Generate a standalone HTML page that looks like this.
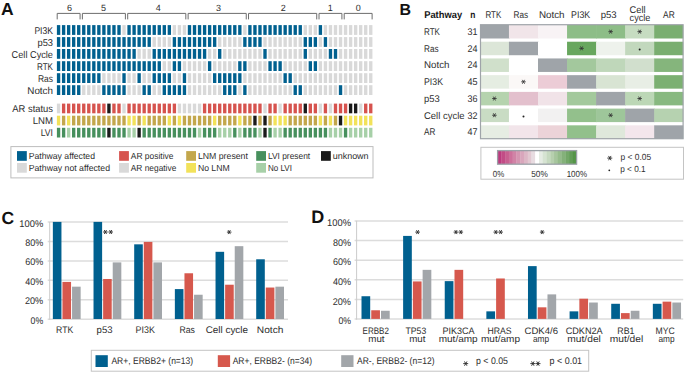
<!DOCTYPE html>
<html><head><meta charset="utf-8"><title>Figure</title>
<style>
html,body{margin:0;padding:0;background:#fff;}
body{width:685px;height:373px;overflow:hidden;}
svg{display:block;font-family:"Liberation Sans", sans-serif;}
</style></head>
<body>
<svg width="685" height="373" viewBox="0 0 685 373" font-family='"Liberation Sans", sans-serif' fill="#2e2e2e" text-rendering="geometricPrecision">
<rect width="685" height="373" fill="#fff"/>
<rect x="56.90" y="25.10" width="3.35" height="9.80" fill="#00608f"/>
<rect x="61.94" y="25.10" width="3.35" height="9.80" fill="#00608f"/>
<rect x="66.97" y="25.10" width="3.35" height="9.80" fill="#00608f"/>
<rect x="72.00" y="25.10" width="3.35" height="9.80" fill="#00608f"/>
<rect x="77.04" y="25.10" width="3.35" height="9.80" fill="#00608f"/>
<rect x="82.08" y="25.10" width="3.35" height="9.80" fill="#00608f"/>
<rect x="87.11" y="25.10" width="3.35" height="9.80" fill="#00608f"/>
<rect x="92.15" y="25.10" width="3.35" height="9.80" fill="#00608f"/>
<rect x="97.18" y="25.10" width="3.35" height="9.80" fill="#00608f"/>
<rect x="102.22" y="25.10" width="3.35" height="9.80" fill="#00608f"/>
<rect x="107.25" y="25.10" width="3.35" height="9.80" fill="#00608f"/>
<rect x="112.28" y="25.10" width="3.35" height="9.80" fill="#00608f"/>
<rect x="117.32" y="25.10" width="3.35" height="9.80" fill="#00608f"/>
<rect x="122.35" y="25.10" width="3.35" height="9.80" fill="#d9d9d9"/>
<rect x="127.39" y="25.10" width="3.35" height="9.80" fill="#00608f"/>
<rect x="132.43" y="25.10" width="3.35" height="9.80" fill="#00608f"/>
<rect x="137.46" y="25.10" width="3.35" height="9.80" fill="#00608f"/>
<rect x="142.50" y="25.10" width="3.35" height="9.80" fill="#00608f"/>
<rect x="147.53" y="25.10" width="3.35" height="9.80" fill="#00608f"/>
<rect x="152.56" y="25.10" width="3.35" height="9.80" fill="#00608f"/>
<rect x="157.60" y="25.10" width="3.35" height="9.80" fill="#00608f"/>
<rect x="162.63" y="25.10" width="3.35" height="9.80" fill="#00608f"/>
<rect x="167.67" y="25.10" width="3.35" height="9.80" fill="#00608f"/>
<rect x="172.71" y="25.10" width="3.35" height="9.80" fill="#d9d9d9"/>
<rect x="177.74" y="25.10" width="3.35" height="9.80" fill="#d9d9d9"/>
<rect x="182.78" y="25.10" width="3.35" height="9.80" fill="#d9d9d9"/>
<rect x="187.81" y="25.10" width="3.35" height="9.80" fill="#00608f"/>
<rect x="192.84" y="25.10" width="3.35" height="9.80" fill="#00608f"/>
<rect x="197.88" y="25.10" width="3.35" height="9.80" fill="#00608f"/>
<rect x="202.92" y="25.10" width="3.35" height="9.80" fill="#00608f"/>
<rect x="207.95" y="25.10" width="3.35" height="9.80" fill="#00608f"/>
<rect x="212.99" y="25.10" width="3.35" height="9.80" fill="#00608f"/>
<rect x="218.02" y="25.10" width="3.35" height="9.80" fill="#00608f"/>
<rect x="223.06" y="25.10" width="3.35" height="9.80" fill="#00608f"/>
<rect x="228.09" y="25.10" width="3.35" height="9.80" fill="#00608f"/>
<rect x="233.12" y="25.10" width="3.35" height="9.80" fill="#00608f"/>
<rect x="238.16" y="25.10" width="3.35" height="9.80" fill="#00608f"/>
<rect x="243.20" y="25.10" width="3.35" height="9.80" fill="#d9d9d9"/>
<rect x="248.23" y="25.10" width="3.35" height="9.80" fill="#00608f"/>
<rect x="253.27" y="25.10" width="3.35" height="9.80" fill="#00608f"/>
<rect x="258.30" y="25.10" width="3.35" height="9.80" fill="#00608f"/>
<rect x="263.33" y="25.10" width="3.35" height="9.80" fill="#00608f"/>
<rect x="268.37" y="25.10" width="3.35" height="9.80" fill="#00608f"/>
<rect x="273.40" y="25.10" width="3.35" height="9.80" fill="#00608f"/>
<rect x="278.44" y="25.10" width="3.35" height="9.80" fill="#00608f"/>
<rect x="283.48" y="25.10" width="3.35" height="9.80" fill="#00608f"/>
<rect x="288.51" y="25.10" width="3.35" height="9.80" fill="#00608f"/>
<rect x="293.55" y="25.10" width="3.35" height="9.80" fill="#00608f"/>
<rect x="298.58" y="25.10" width="3.35" height="9.80" fill="#00608f"/>
<rect x="303.62" y="25.10" width="3.35" height="9.80" fill="#d9d9d9"/>
<rect x="308.65" y="25.10" width="3.35" height="9.80" fill="#d9d9d9"/>
<rect x="313.69" y="25.10" width="3.35" height="9.80" fill="#d9d9d9"/>
<rect x="318.72" y="25.10" width="3.35" height="9.80" fill="#00608f"/>
<rect x="323.75" y="25.10" width="3.35" height="9.80" fill="#d9d9d9"/>
<rect x="328.79" y="25.10" width="3.35" height="9.80" fill="#d9d9d9"/>
<rect x="333.82" y="25.10" width="3.35" height="9.80" fill="#d9d9d9"/>
<rect x="338.86" y="25.10" width="3.35" height="9.80" fill="#d9d9d9"/>
<rect x="343.89" y="25.10" width="3.35" height="9.80" fill="#d9d9d9"/>
<rect x="348.93" y="25.10" width="3.35" height="9.80" fill="#d9d9d9"/>
<rect x="353.96" y="25.10" width="3.35" height="9.80" fill="#d9d9d9"/>
<rect x="359.00" y="25.10" width="3.35" height="9.80" fill="#d9d9d9"/>
<rect x="364.03" y="25.10" width="3.35" height="9.80" fill="#d9d9d9"/>
<rect x="369.07" y="25.10" width="3.35" height="9.80" fill="#d9d9d9"/>
<rect x="56.90" y="37.10" width="3.35" height="9.80" fill="#00608f"/>
<rect x="61.94" y="37.10" width="3.35" height="9.80" fill="#00608f"/>
<rect x="66.97" y="37.10" width="3.35" height="9.80" fill="#00608f"/>
<rect x="72.00" y="37.10" width="3.35" height="9.80" fill="#00608f"/>
<rect x="77.04" y="37.10" width="3.35" height="9.80" fill="#00608f"/>
<rect x="82.08" y="37.10" width="3.35" height="9.80" fill="#00608f"/>
<rect x="87.11" y="37.10" width="3.35" height="9.80" fill="#00608f"/>
<rect x="92.15" y="37.10" width="3.35" height="9.80" fill="#00608f"/>
<rect x="97.18" y="37.10" width="3.35" height="9.80" fill="#00608f"/>
<rect x="102.22" y="37.10" width="3.35" height="9.80" fill="#00608f"/>
<rect x="107.25" y="37.10" width="3.35" height="9.80" fill="#00608f"/>
<rect x="112.28" y="37.10" width="3.35" height="9.80" fill="#00608f"/>
<rect x="117.32" y="37.10" width="3.35" height="9.80" fill="#00608f"/>
<rect x="122.35" y="37.10" width="3.35" height="9.80" fill="#00608f"/>
<rect x="127.39" y="37.10" width="3.35" height="9.80" fill="#00608f"/>
<rect x="132.43" y="37.10" width="3.35" height="9.80" fill="#00608f"/>
<rect x="137.46" y="37.10" width="3.35" height="9.80" fill="#00608f"/>
<rect x="142.50" y="37.10" width="3.35" height="9.80" fill="#00608f"/>
<rect x="147.53" y="37.10" width="3.35" height="9.80" fill="#00608f"/>
<rect x="152.56" y="37.10" width="3.35" height="9.80" fill="#d9d9d9"/>
<rect x="157.60" y="37.10" width="3.35" height="9.80" fill="#d9d9d9"/>
<rect x="162.63" y="37.10" width="3.35" height="9.80" fill="#d9d9d9"/>
<rect x="167.67" y="37.10" width="3.35" height="9.80" fill="#d9d9d9"/>
<rect x="172.71" y="37.10" width="3.35" height="9.80" fill="#00608f"/>
<rect x="177.74" y="37.10" width="3.35" height="9.80" fill="#00608f"/>
<rect x="182.78" y="37.10" width="3.35" height="9.80" fill="#00608f"/>
<rect x="187.81" y="37.10" width="3.35" height="9.80" fill="#00608f"/>
<rect x="192.84" y="37.10" width="3.35" height="9.80" fill="#00608f"/>
<rect x="197.88" y="37.10" width="3.35" height="9.80" fill="#00608f"/>
<rect x="202.92" y="37.10" width="3.35" height="9.80" fill="#00608f"/>
<rect x="207.95" y="37.10" width="3.35" height="9.80" fill="#00608f"/>
<rect x="212.99" y="37.10" width="3.35" height="9.80" fill="#00608f"/>
<rect x="218.02" y="37.10" width="3.35" height="9.80" fill="#d9d9d9"/>
<rect x="223.06" y="37.10" width="3.35" height="9.80" fill="#d9d9d9"/>
<rect x="228.09" y="37.10" width="3.35" height="9.80" fill="#d9d9d9"/>
<rect x="233.12" y="37.10" width="3.35" height="9.80" fill="#d9d9d9"/>
<rect x="238.16" y="37.10" width="3.35" height="9.80" fill="#d9d9d9"/>
<rect x="243.20" y="37.10" width="3.35" height="9.80" fill="#00608f"/>
<rect x="248.23" y="37.10" width="3.35" height="9.80" fill="#00608f"/>
<rect x="253.27" y="37.10" width="3.35" height="9.80" fill="#00608f"/>
<rect x="258.30" y="37.10" width="3.35" height="9.80" fill="#00608f"/>
<rect x="263.33" y="37.10" width="3.35" height="9.80" fill="#d9d9d9"/>
<rect x="268.37" y="37.10" width="3.35" height="9.80" fill="#d9d9d9"/>
<rect x="273.40" y="37.10" width="3.35" height="9.80" fill="#d9d9d9"/>
<rect x="278.44" y="37.10" width="3.35" height="9.80" fill="#d9d9d9"/>
<rect x="283.48" y="37.10" width="3.35" height="9.80" fill="#d9d9d9"/>
<rect x="288.51" y="37.10" width="3.35" height="9.80" fill="#d9d9d9"/>
<rect x="293.55" y="37.10" width="3.35" height="9.80" fill="#d9d9d9"/>
<rect x="298.58" y="37.10" width="3.35" height="9.80" fill="#d9d9d9"/>
<rect x="303.62" y="37.10" width="3.35" height="9.80" fill="#00608f"/>
<rect x="308.65" y="37.10" width="3.35" height="9.80" fill="#00608f"/>
<rect x="313.69" y="37.10" width="3.35" height="9.80" fill="#00608f"/>
<rect x="318.72" y="37.10" width="3.35" height="9.80" fill="#d9d9d9"/>
<rect x="323.75" y="37.10" width="3.35" height="9.80" fill="#00608f"/>
<rect x="328.79" y="37.10" width="3.35" height="9.80" fill="#d9d9d9"/>
<rect x="333.82" y="37.10" width="3.35" height="9.80" fill="#d9d9d9"/>
<rect x="338.86" y="37.10" width="3.35" height="9.80" fill="#d9d9d9"/>
<rect x="343.89" y="37.10" width="3.35" height="9.80" fill="#d9d9d9"/>
<rect x="348.93" y="37.10" width="3.35" height="9.80" fill="#d9d9d9"/>
<rect x="353.96" y="37.10" width="3.35" height="9.80" fill="#d9d9d9"/>
<rect x="359.00" y="37.10" width="3.35" height="9.80" fill="#d9d9d9"/>
<rect x="364.03" y="37.10" width="3.35" height="9.80" fill="#d9d9d9"/>
<rect x="369.07" y="37.10" width="3.35" height="9.80" fill="#d9d9d9"/>
<rect x="56.90" y="49.00" width="3.35" height="9.80" fill="#00608f"/>
<rect x="61.94" y="49.00" width="3.35" height="9.80" fill="#00608f"/>
<rect x="66.97" y="49.00" width="3.35" height="9.80" fill="#00608f"/>
<rect x="72.00" y="49.00" width="3.35" height="9.80" fill="#00608f"/>
<rect x="77.04" y="49.00" width="3.35" height="9.80" fill="#00608f"/>
<rect x="82.08" y="49.00" width="3.35" height="9.80" fill="#00608f"/>
<rect x="87.11" y="49.00" width="3.35" height="9.80" fill="#00608f"/>
<rect x="92.15" y="49.00" width="3.35" height="9.80" fill="#00608f"/>
<rect x="97.18" y="49.00" width="3.35" height="9.80" fill="#00608f"/>
<rect x="102.22" y="49.00" width="3.35" height="9.80" fill="#00608f"/>
<rect x="107.25" y="49.00" width="3.35" height="9.80" fill="#00608f"/>
<rect x="112.28" y="49.00" width="3.35" height="9.80" fill="#00608f"/>
<rect x="117.32" y="49.00" width="3.35" height="9.80" fill="#00608f"/>
<rect x="122.35" y="49.00" width="3.35" height="9.80" fill="#00608f"/>
<rect x="127.39" y="49.00" width="3.35" height="9.80" fill="#00608f"/>
<rect x="132.43" y="49.00" width="3.35" height="9.80" fill="#00608f"/>
<rect x="137.46" y="49.00" width="3.35" height="9.80" fill="#d9d9d9"/>
<rect x="142.50" y="49.00" width="3.35" height="9.80" fill="#d9d9d9"/>
<rect x="147.53" y="49.00" width="3.35" height="9.80" fill="#d9d9d9"/>
<rect x="152.56" y="49.00" width="3.35" height="9.80" fill="#00608f"/>
<rect x="157.60" y="49.00" width="3.35" height="9.80" fill="#00608f"/>
<rect x="162.63" y="49.00" width="3.35" height="9.80" fill="#00608f"/>
<rect x="167.67" y="49.00" width="3.35" height="9.80" fill="#00608f"/>
<rect x="172.71" y="49.00" width="3.35" height="9.80" fill="#00608f"/>
<rect x="177.74" y="49.00" width="3.35" height="9.80" fill="#00608f"/>
<rect x="182.78" y="49.00" width="3.35" height="9.80" fill="#00608f"/>
<rect x="187.81" y="49.00" width="3.35" height="9.80" fill="#00608f"/>
<rect x="192.84" y="49.00" width="3.35" height="9.80" fill="#00608f"/>
<rect x="197.88" y="49.00" width="3.35" height="9.80" fill="#00608f"/>
<rect x="202.92" y="49.00" width="3.35" height="9.80" fill="#00608f"/>
<rect x="207.95" y="49.00" width="3.35" height="9.80" fill="#d9d9d9"/>
<rect x="212.99" y="49.00" width="3.35" height="9.80" fill="#d9d9d9"/>
<rect x="218.02" y="49.00" width="3.35" height="9.80" fill="#00608f"/>
<rect x="223.06" y="49.00" width="3.35" height="9.80" fill="#d9d9d9"/>
<rect x="228.09" y="49.00" width="3.35" height="9.80" fill="#d9d9d9"/>
<rect x="233.12" y="49.00" width="3.35" height="9.80" fill="#d9d9d9"/>
<rect x="238.16" y="49.00" width="3.35" height="9.80" fill="#d9d9d9"/>
<rect x="243.20" y="49.00" width="3.35" height="9.80" fill="#d9d9d9"/>
<rect x="248.23" y="49.00" width="3.35" height="9.80" fill="#d9d9d9"/>
<rect x="253.27" y="49.00" width="3.35" height="9.80" fill="#d9d9d9"/>
<rect x="258.30" y="49.00" width="3.35" height="9.80" fill="#d9d9d9"/>
<rect x="263.33" y="49.00" width="3.35" height="9.80" fill="#00608f"/>
<rect x="268.37" y="49.00" width="3.35" height="9.80" fill="#d9d9d9"/>
<rect x="273.40" y="49.00" width="3.35" height="9.80" fill="#d9d9d9"/>
<rect x="278.44" y="49.00" width="3.35" height="9.80" fill="#d9d9d9"/>
<rect x="283.48" y="49.00" width="3.35" height="9.80" fill="#d9d9d9"/>
<rect x="288.51" y="49.00" width="3.35" height="9.80" fill="#d9d9d9"/>
<rect x="293.55" y="49.00" width="3.35" height="9.80" fill="#d9d9d9"/>
<rect x="298.58" y="49.00" width="3.35" height="9.80" fill="#d9d9d9"/>
<rect x="303.62" y="49.00" width="3.35" height="9.80" fill="#00608f"/>
<rect x="308.65" y="49.00" width="3.35" height="9.80" fill="#d9d9d9"/>
<rect x="313.69" y="49.00" width="3.35" height="9.80" fill="#d9d9d9"/>
<rect x="318.72" y="49.00" width="3.35" height="9.80" fill="#d9d9d9"/>
<rect x="323.75" y="49.00" width="3.35" height="9.80" fill="#d9d9d9"/>
<rect x="328.79" y="49.00" width="3.35" height="9.80" fill="#00608f"/>
<rect x="333.82" y="49.00" width="3.35" height="9.80" fill="#00608f"/>
<rect x="338.86" y="49.00" width="3.35" height="9.80" fill="#d9d9d9"/>
<rect x="343.89" y="49.00" width="3.35" height="9.80" fill="#d9d9d9"/>
<rect x="348.93" y="49.00" width="3.35" height="9.80" fill="#d9d9d9"/>
<rect x="353.96" y="49.00" width="3.35" height="9.80" fill="#d9d9d9"/>
<rect x="359.00" y="49.00" width="3.35" height="9.80" fill="#d9d9d9"/>
<rect x="364.03" y="49.00" width="3.35" height="9.80" fill="#d9d9d9"/>
<rect x="369.07" y="49.00" width="3.35" height="9.80" fill="#d9d9d9"/>
<rect x="56.90" y="61.20" width="3.35" height="9.80" fill="#00608f"/>
<rect x="61.94" y="61.20" width="3.35" height="9.80" fill="#00608f"/>
<rect x="66.97" y="61.20" width="3.35" height="9.80" fill="#00608f"/>
<rect x="72.00" y="61.20" width="3.35" height="9.80" fill="#00608f"/>
<rect x="77.04" y="61.20" width="3.35" height="9.80" fill="#00608f"/>
<rect x="82.08" y="61.20" width="3.35" height="9.80" fill="#00608f"/>
<rect x="87.11" y="61.20" width="3.35" height="9.80" fill="#00608f"/>
<rect x="92.15" y="61.20" width="3.35" height="9.80" fill="#00608f"/>
<rect x="97.18" y="61.20" width="3.35" height="9.80" fill="#00608f"/>
<rect x="102.22" y="61.20" width="3.35" height="9.80" fill="#00608f"/>
<rect x="107.25" y="61.20" width="3.35" height="9.80" fill="#00608f"/>
<rect x="112.28" y="61.20" width="3.35" height="9.80" fill="#00608f"/>
<rect x="117.32" y="61.20" width="3.35" height="9.80" fill="#00608f"/>
<rect x="122.35" y="61.20" width="3.35" height="9.80" fill="#00608f"/>
<rect x="127.39" y="61.20" width="3.35" height="9.80" fill="#00608f"/>
<rect x="132.43" y="61.20" width="3.35" height="9.80" fill="#00608f"/>
<rect x="137.46" y="61.20" width="3.35" height="9.80" fill="#00608f"/>
<rect x="142.50" y="61.20" width="3.35" height="9.80" fill="#00608f"/>
<rect x="147.53" y="61.20" width="3.35" height="9.80" fill="#00608f"/>
<rect x="152.56" y="61.20" width="3.35" height="9.80" fill="#00608f"/>
<rect x="157.60" y="61.20" width="3.35" height="9.80" fill="#00608f"/>
<rect x="162.63" y="61.20" width="3.35" height="9.80" fill="#d9d9d9"/>
<rect x="167.67" y="61.20" width="3.35" height="9.80" fill="#d9d9d9"/>
<rect x="172.71" y="61.20" width="3.35" height="9.80" fill="#00608f"/>
<rect x="177.74" y="61.20" width="3.35" height="9.80" fill="#00608f"/>
<rect x="182.78" y="61.20" width="3.35" height="9.80" fill="#d9d9d9"/>
<rect x="187.81" y="61.20" width="3.35" height="9.80" fill="#d9d9d9"/>
<rect x="192.84" y="61.20" width="3.35" height="9.80" fill="#d9d9d9"/>
<rect x="197.88" y="61.20" width="3.35" height="9.80" fill="#d9d9d9"/>
<rect x="202.92" y="61.20" width="3.35" height="9.80" fill="#d9d9d9"/>
<rect x="207.95" y="61.20" width="3.35" height="9.80" fill="#00608f"/>
<rect x="212.99" y="61.20" width="3.35" height="9.80" fill="#d9d9d9"/>
<rect x="218.02" y="61.20" width="3.35" height="9.80" fill="#d9d9d9"/>
<rect x="223.06" y="61.20" width="3.35" height="9.80" fill="#d9d9d9"/>
<rect x="228.09" y="61.20" width="3.35" height="9.80" fill="#d9d9d9"/>
<rect x="233.12" y="61.20" width="3.35" height="9.80" fill="#d9d9d9"/>
<rect x="238.16" y="61.20" width="3.35" height="9.80" fill="#00608f"/>
<rect x="243.20" y="61.20" width="3.35" height="9.80" fill="#00608f"/>
<rect x="248.23" y="61.20" width="3.35" height="9.80" fill="#d9d9d9"/>
<rect x="253.27" y="61.20" width="3.35" height="9.80" fill="#d9d9d9"/>
<rect x="258.30" y="61.20" width="3.35" height="9.80" fill="#d9d9d9"/>
<rect x="263.33" y="61.20" width="3.35" height="9.80" fill="#d9d9d9"/>
<rect x="268.37" y="61.20" width="3.35" height="9.80" fill="#00608f"/>
<rect x="273.40" y="61.20" width="3.35" height="9.80" fill="#00608f"/>
<rect x="278.44" y="61.20" width="3.35" height="9.80" fill="#00608f"/>
<rect x="283.48" y="61.20" width="3.35" height="9.80" fill="#d9d9d9"/>
<rect x="288.51" y="61.20" width="3.35" height="9.80" fill="#d9d9d9"/>
<rect x="293.55" y="61.20" width="3.35" height="9.80" fill="#d9d9d9"/>
<rect x="298.58" y="61.20" width="3.35" height="9.80" fill="#d9d9d9"/>
<rect x="303.62" y="61.20" width="3.35" height="9.80" fill="#d9d9d9"/>
<rect x="308.65" y="61.20" width="3.35" height="9.80" fill="#00608f"/>
<rect x="313.69" y="61.20" width="3.35" height="9.80" fill="#00608f"/>
<rect x="318.72" y="61.20" width="3.35" height="9.80" fill="#d9d9d9"/>
<rect x="323.75" y="61.20" width="3.35" height="9.80" fill="#d9d9d9"/>
<rect x="328.79" y="61.20" width="3.35" height="9.80" fill="#d9d9d9"/>
<rect x="333.82" y="61.20" width="3.35" height="9.80" fill="#d9d9d9"/>
<rect x="338.86" y="61.20" width="3.35" height="9.80" fill="#d9d9d9"/>
<rect x="343.89" y="61.20" width="3.35" height="9.80" fill="#d9d9d9"/>
<rect x="348.93" y="61.20" width="3.35" height="9.80" fill="#d9d9d9"/>
<rect x="353.96" y="61.20" width="3.35" height="9.80" fill="#d9d9d9"/>
<rect x="359.00" y="61.20" width="3.35" height="9.80" fill="#d9d9d9"/>
<rect x="364.03" y="61.20" width="3.35" height="9.80" fill="#d9d9d9"/>
<rect x="369.07" y="61.20" width="3.35" height="9.80" fill="#d9d9d9"/>
<rect x="56.90" y="73.20" width="3.35" height="9.80" fill="#00608f"/>
<rect x="61.94" y="73.20" width="3.35" height="9.80" fill="#00608f"/>
<rect x="66.97" y="73.20" width="3.35" height="9.80" fill="#00608f"/>
<rect x="72.00" y="73.20" width="3.35" height="9.80" fill="#00608f"/>
<rect x="77.04" y="73.20" width="3.35" height="9.80" fill="#00608f"/>
<rect x="82.08" y="73.20" width="3.35" height="9.80" fill="#00608f"/>
<rect x="87.11" y="73.20" width="3.35" height="9.80" fill="#00608f"/>
<rect x="92.15" y="73.20" width="3.35" height="9.80" fill="#00608f"/>
<rect x="97.18" y="73.20" width="3.35" height="9.80" fill="#00608f"/>
<rect x="102.22" y="73.20" width="3.35" height="9.80" fill="#d9d9d9"/>
<rect x="107.25" y="73.20" width="3.35" height="9.80" fill="#d9d9d9"/>
<rect x="112.28" y="73.20" width="3.35" height="9.80" fill="#d9d9d9"/>
<rect x="117.32" y="73.20" width="3.35" height="9.80" fill="#d9d9d9"/>
<rect x="122.35" y="73.20" width="3.35" height="9.80" fill="#00608f"/>
<rect x="127.39" y="73.20" width="3.35" height="9.80" fill="#d9d9d9"/>
<rect x="132.43" y="73.20" width="3.35" height="9.80" fill="#d9d9d9"/>
<rect x="137.46" y="73.20" width="3.35" height="9.80" fill="#00608f"/>
<rect x="142.50" y="73.20" width="3.35" height="9.80" fill="#d9d9d9"/>
<rect x="147.53" y="73.20" width="3.35" height="9.80" fill="#d9d9d9"/>
<rect x="152.56" y="73.20" width="3.35" height="9.80" fill="#00608f"/>
<rect x="157.60" y="73.20" width="3.35" height="9.80" fill="#00608f"/>
<rect x="162.63" y="73.20" width="3.35" height="9.80" fill="#00608f"/>
<rect x="167.67" y="73.20" width="3.35" height="9.80" fill="#00608f"/>
<rect x="172.71" y="73.20" width="3.35" height="9.80" fill="#d9d9d9"/>
<rect x="177.74" y="73.20" width="3.35" height="9.80" fill="#d9d9d9"/>
<rect x="182.78" y="73.20" width="3.35" height="9.80" fill="#00608f"/>
<rect x="187.81" y="73.20" width="3.35" height="9.80" fill="#d9d9d9"/>
<rect x="192.84" y="73.20" width="3.35" height="9.80" fill="#d9d9d9"/>
<rect x="197.88" y="73.20" width="3.35" height="9.80" fill="#d9d9d9"/>
<rect x="202.92" y="73.20" width="3.35" height="9.80" fill="#d9d9d9"/>
<rect x="207.95" y="73.20" width="3.35" height="9.80" fill="#d9d9d9"/>
<rect x="212.99" y="73.20" width="3.35" height="9.80" fill="#00608f"/>
<rect x="218.02" y="73.20" width="3.35" height="9.80" fill="#00608f"/>
<rect x="223.06" y="73.20" width="3.35" height="9.80" fill="#00608f"/>
<rect x="228.09" y="73.20" width="3.35" height="9.80" fill="#00608f"/>
<rect x="233.12" y="73.20" width="3.35" height="9.80" fill="#00608f"/>
<rect x="238.16" y="73.20" width="3.35" height="9.80" fill="#00608f"/>
<rect x="243.20" y="73.20" width="3.35" height="9.80" fill="#d9d9d9"/>
<rect x="248.23" y="73.20" width="3.35" height="9.80" fill="#d9d9d9"/>
<rect x="253.27" y="73.20" width="3.35" height="9.80" fill="#d9d9d9"/>
<rect x="258.30" y="73.20" width="3.35" height="9.80" fill="#d9d9d9"/>
<rect x="263.33" y="73.20" width="3.35" height="9.80" fill="#d9d9d9"/>
<rect x="268.37" y="73.20" width="3.35" height="9.80" fill="#d9d9d9"/>
<rect x="273.40" y="73.20" width="3.35" height="9.80" fill="#d9d9d9"/>
<rect x="278.44" y="73.20" width="3.35" height="9.80" fill="#d9d9d9"/>
<rect x="283.48" y="73.20" width="3.35" height="9.80" fill="#00608f"/>
<rect x="288.51" y="73.20" width="3.35" height="9.80" fill="#00608f"/>
<rect x="293.55" y="73.20" width="3.35" height="9.80" fill="#d9d9d9"/>
<rect x="298.58" y="73.20" width="3.35" height="9.80" fill="#d9d9d9"/>
<rect x="303.62" y="73.20" width="3.35" height="9.80" fill="#d9d9d9"/>
<rect x="308.65" y="73.20" width="3.35" height="9.80" fill="#d9d9d9"/>
<rect x="313.69" y="73.20" width="3.35" height="9.80" fill="#d9d9d9"/>
<rect x="318.72" y="73.20" width="3.35" height="9.80" fill="#d9d9d9"/>
<rect x="323.75" y="73.20" width="3.35" height="9.80" fill="#d9d9d9"/>
<rect x="328.79" y="73.20" width="3.35" height="9.80" fill="#d9d9d9"/>
<rect x="333.82" y="73.20" width="3.35" height="9.80" fill="#d9d9d9"/>
<rect x="338.86" y="73.20" width="3.35" height="9.80" fill="#d9d9d9"/>
<rect x="343.89" y="73.20" width="3.35" height="9.80" fill="#d9d9d9"/>
<rect x="348.93" y="73.20" width="3.35" height="9.80" fill="#d9d9d9"/>
<rect x="353.96" y="73.20" width="3.35" height="9.80" fill="#d9d9d9"/>
<rect x="359.00" y="73.20" width="3.35" height="9.80" fill="#d9d9d9"/>
<rect x="364.03" y="73.20" width="3.35" height="9.80" fill="#d9d9d9"/>
<rect x="369.07" y="73.20" width="3.35" height="9.80" fill="#d9d9d9"/>
<rect x="56.90" y="85.20" width="3.35" height="9.80" fill="#00608f"/>
<rect x="61.94" y="85.20" width="3.35" height="9.80" fill="#00608f"/>
<rect x="66.97" y="85.20" width="3.35" height="9.80" fill="#00608f"/>
<rect x="72.00" y="85.20" width="3.35" height="9.80" fill="#00608f"/>
<rect x="77.04" y="85.20" width="3.35" height="9.80" fill="#00608f"/>
<rect x="82.08" y="85.20" width="3.35" height="9.80" fill="#d9d9d9"/>
<rect x="87.11" y="85.20" width="3.35" height="9.80" fill="#d9d9d9"/>
<rect x="92.15" y="85.20" width="3.35" height="9.80" fill="#d9d9d9"/>
<rect x="97.18" y="85.20" width="3.35" height="9.80" fill="#d9d9d9"/>
<rect x="102.22" y="85.20" width="3.35" height="9.80" fill="#00608f"/>
<rect x="107.25" y="85.20" width="3.35" height="9.80" fill="#00608f"/>
<rect x="112.28" y="85.20" width="3.35" height="9.80" fill="#00608f"/>
<rect x="117.32" y="85.20" width="3.35" height="9.80" fill="#00608f"/>
<rect x="122.35" y="85.20" width="3.35" height="9.80" fill="#00608f"/>
<rect x="127.39" y="85.20" width="3.35" height="9.80" fill="#d9d9d9"/>
<rect x="132.43" y="85.20" width="3.35" height="9.80" fill="#d9d9d9"/>
<rect x="137.46" y="85.20" width="3.35" height="9.80" fill="#d9d9d9"/>
<rect x="142.50" y="85.20" width="3.35" height="9.80" fill="#00608f"/>
<rect x="147.53" y="85.20" width="3.35" height="9.80" fill="#00608f"/>
<rect x="152.56" y="85.20" width="3.35" height="9.80" fill="#d9d9d9"/>
<rect x="157.60" y="85.20" width="3.35" height="9.80" fill="#d9d9d9"/>
<rect x="162.63" y="85.20" width="3.35" height="9.80" fill="#00608f"/>
<rect x="167.67" y="85.20" width="3.35" height="9.80" fill="#00608f"/>
<rect x="172.71" y="85.20" width="3.35" height="9.80" fill="#00608f"/>
<rect x="177.74" y="85.20" width="3.35" height="9.80" fill="#00608f"/>
<rect x="182.78" y="85.20" width="3.35" height="9.80" fill="#00608f"/>
<rect x="187.81" y="85.20" width="3.35" height="9.80" fill="#d9d9d9"/>
<rect x="192.84" y="85.20" width="3.35" height="9.80" fill="#d9d9d9"/>
<rect x="197.88" y="85.20" width="3.35" height="9.80" fill="#d9d9d9"/>
<rect x="202.92" y="85.20" width="3.35" height="9.80" fill="#d9d9d9"/>
<rect x="207.95" y="85.20" width="3.35" height="9.80" fill="#d9d9d9"/>
<rect x="212.99" y="85.20" width="3.35" height="9.80" fill="#d9d9d9"/>
<rect x="218.02" y="85.20" width="3.35" height="9.80" fill="#d9d9d9"/>
<rect x="223.06" y="85.20" width="3.35" height="9.80" fill="#00608f"/>
<rect x="228.09" y="85.20" width="3.35" height="9.80" fill="#00608f"/>
<rect x="233.12" y="85.20" width="3.35" height="9.80" fill="#00608f"/>
<rect x="238.16" y="85.20" width="3.35" height="9.80" fill="#d9d9d9"/>
<rect x="243.20" y="85.20" width="3.35" height="9.80" fill="#00608f"/>
<rect x="248.23" y="85.20" width="3.35" height="9.80" fill="#d9d9d9"/>
<rect x="253.27" y="85.20" width="3.35" height="9.80" fill="#d9d9d9"/>
<rect x="258.30" y="85.20" width="3.35" height="9.80" fill="#d9d9d9"/>
<rect x="263.33" y="85.20" width="3.35" height="9.80" fill="#d9d9d9"/>
<rect x="268.37" y="85.20" width="3.35" height="9.80" fill="#d9d9d9"/>
<rect x="273.40" y="85.20" width="3.35" height="9.80" fill="#d9d9d9"/>
<rect x="278.44" y="85.20" width="3.35" height="9.80" fill="#d9d9d9"/>
<rect x="283.48" y="85.20" width="3.35" height="9.80" fill="#d9d9d9"/>
<rect x="288.51" y="85.20" width="3.35" height="9.80" fill="#d9d9d9"/>
<rect x="293.55" y="85.20" width="3.35" height="9.80" fill="#00608f"/>
<rect x="298.58" y="85.20" width="3.35" height="9.80" fill="#00608f"/>
<rect x="303.62" y="85.20" width="3.35" height="9.80" fill="#d9d9d9"/>
<rect x="308.65" y="85.20" width="3.35" height="9.80" fill="#d9d9d9"/>
<rect x="313.69" y="85.20" width="3.35" height="9.80" fill="#d9d9d9"/>
<rect x="318.72" y="85.20" width="3.35" height="9.80" fill="#d9d9d9"/>
<rect x="323.75" y="85.20" width="3.35" height="9.80" fill="#d9d9d9"/>
<rect x="328.79" y="85.20" width="3.35" height="9.80" fill="#d9d9d9"/>
<rect x="333.82" y="85.20" width="3.35" height="9.80" fill="#d9d9d9"/>
<rect x="338.86" y="85.20" width="3.35" height="9.80" fill="#00608f"/>
<rect x="343.89" y="85.20" width="3.35" height="9.80" fill="#d9d9d9"/>
<rect x="348.93" y="85.20" width="3.35" height="9.80" fill="#d9d9d9"/>
<rect x="353.96" y="85.20" width="3.35" height="9.80" fill="#d9d9d9"/>
<rect x="359.00" y="85.20" width="3.35" height="9.80" fill="#d9d9d9"/>
<rect x="364.03" y="85.20" width="3.35" height="9.80" fill="#d9d9d9"/>
<rect x="369.07" y="85.20" width="3.35" height="9.80" fill="#d9d9d9"/>
<rect x="56.90" y="103.60" width="3.35" height="9.70" fill="#d9d9d9"/>
<rect x="61.94" y="103.60" width="3.35" height="9.70" fill="#d6534e"/>
<rect x="66.97" y="103.60" width="3.35" height="9.70" fill="#d6534e"/>
<rect x="72.00" y="103.60" width="3.35" height="9.70" fill="#d6534e"/>
<rect x="77.04" y="103.60" width="3.35" height="9.70" fill="#d6534e"/>
<rect x="82.08" y="103.60" width="3.35" height="9.70" fill="#d6534e"/>
<rect x="87.11" y="103.60" width="3.35" height="9.70" fill="#d6534e"/>
<rect x="92.15" y="103.60" width="3.35" height="9.70" fill="#d6534e"/>
<rect x="97.18" y="103.60" width="3.35" height="9.70" fill="#d6534e"/>
<rect x="102.22" y="103.60" width="3.35" height="9.70" fill="#d6534e"/>
<rect x="107.25" y="103.60" width="3.35" height="9.70" fill="#1a1a1a"/>
<rect x="112.28" y="103.60" width="3.35" height="9.70" fill="#d6534e"/>
<rect x="117.32" y="103.60" width="3.35" height="9.70" fill="#d6534e"/>
<rect x="122.35" y="103.60" width="3.35" height="9.70" fill="#d9d9d9"/>
<rect x="127.39" y="103.60" width="3.35" height="9.70" fill="#d6534e"/>
<rect x="132.43" y="103.60" width="3.35" height="9.70" fill="#d6534e"/>
<rect x="137.46" y="103.60" width="3.35" height="9.70" fill="#d6534e"/>
<rect x="142.50" y="103.60" width="3.35" height="9.70" fill="#d6534e"/>
<rect x="147.53" y="103.60" width="3.35" height="9.70" fill="#d6534e"/>
<rect x="152.56" y="103.60" width="3.35" height="9.70" fill="#d6534e"/>
<rect x="157.60" y="103.60" width="3.35" height="9.70" fill="#d6534e"/>
<rect x="162.63" y="103.60" width="3.35" height="9.70" fill="#d6534e"/>
<rect x="167.67" y="103.60" width="3.35" height="9.70" fill="#d6534e"/>
<rect x="172.71" y="103.60" width="3.35" height="9.70" fill="#d6534e"/>
<rect x="177.74" y="103.60" width="3.35" height="9.70" fill="#d9d9d9"/>
<rect x="182.78" y="103.60" width="3.35" height="9.70" fill="#d9d9d9"/>
<rect x="187.81" y="103.60" width="3.35" height="9.70" fill="#d9d9d9"/>
<rect x="192.84" y="103.60" width="3.35" height="9.70" fill="#d9d9d9"/>
<rect x="197.88" y="103.60" width="3.35" height="9.70" fill="#d9d9d9"/>
<rect x="202.92" y="103.60" width="3.35" height="9.70" fill="#d6534e"/>
<rect x="207.95" y="103.60" width="3.35" height="9.70" fill="#d6534e"/>
<rect x="212.99" y="103.60" width="3.35" height="9.70" fill="#d6534e"/>
<rect x="218.02" y="103.60" width="3.35" height="9.70" fill="#d6534e"/>
<rect x="223.06" y="103.60" width="3.35" height="9.70" fill="#d6534e"/>
<rect x="228.09" y="103.60" width="3.35" height="9.70" fill="#d6534e"/>
<rect x="233.12" y="103.60" width="3.35" height="9.70" fill="#d6534e"/>
<rect x="238.16" y="103.60" width="3.35" height="9.70" fill="#d6534e"/>
<rect x="243.20" y="103.60" width="3.35" height="9.70" fill="#d6534e"/>
<rect x="248.23" y="103.60" width="3.35" height="9.70" fill="#d6534e"/>
<rect x="253.27" y="103.60" width="3.35" height="9.70" fill="#d6534e"/>
<rect x="258.30" y="103.60" width="3.35" height="9.70" fill="#d6534e"/>
<rect x="263.33" y="103.60" width="3.35" height="9.70" fill="#d9d9d9"/>
<rect x="268.37" y="103.60" width="3.35" height="9.70" fill="#d6534e"/>
<rect x="273.40" y="103.60" width="3.35" height="9.70" fill="#d6534e"/>
<rect x="278.44" y="103.60" width="3.35" height="9.70" fill="#d9d9d9"/>
<rect x="283.48" y="103.60" width="3.35" height="9.70" fill="#d6534e"/>
<rect x="288.51" y="103.60" width="3.35" height="9.70" fill="#d6534e"/>
<rect x="293.55" y="103.60" width="3.35" height="9.70" fill="#d6534e"/>
<rect x="298.58" y="103.60" width="3.35" height="9.70" fill="#d6534e"/>
<rect x="303.62" y="103.60" width="3.35" height="9.70" fill="#1a1a1a"/>
<rect x="308.65" y="103.60" width="3.35" height="9.70" fill="#d6534e"/>
<rect x="313.69" y="103.60" width="3.35" height="9.70" fill="#d6534e"/>
<rect x="318.72" y="103.60" width="3.35" height="9.70" fill="#d9d9d9"/>
<rect x="323.75" y="103.60" width="3.35" height="9.70" fill="#d6534e"/>
<rect x="328.79" y="103.60" width="3.35" height="9.70" fill="#d9d9d9"/>
<rect x="333.82" y="103.60" width="3.35" height="9.70" fill="#d6534e"/>
<rect x="338.86" y="103.60" width="3.35" height="9.70" fill="#d6534e"/>
<rect x="343.89" y="103.60" width="3.35" height="9.70" fill="#d6534e"/>
<rect x="348.93" y="103.60" width="3.35" height="9.70" fill="#1a1a1a"/>
<rect x="353.96" y="103.60" width="3.35" height="9.70" fill="#1a1a1a"/>
<rect x="359.00" y="103.60" width="3.35" height="9.70" fill="#d9d9d9"/>
<rect x="364.03" y="103.60" width="3.35" height="9.70" fill="#d6534e"/>
<rect x="369.07" y="103.60" width="3.35" height="9.70" fill="#d6534e"/>
<rect x="56.90" y="115.70" width="3.35" height="9.70" fill="#f2e25a"/>
<rect x="61.94" y="115.70" width="3.35" height="9.70" fill="#c3a74c"/>
<rect x="66.97" y="115.70" width="3.35" height="9.70" fill="#f2e25a"/>
<rect x="72.00" y="115.70" width="3.35" height="9.70" fill="#c3a74c"/>
<rect x="77.04" y="115.70" width="3.35" height="9.70" fill="#c3a74c"/>
<rect x="82.08" y="115.70" width="3.35" height="9.70" fill="#c3a74c"/>
<rect x="87.11" y="115.70" width="3.35" height="9.70" fill="#c3a74c"/>
<rect x="92.15" y="115.70" width="3.35" height="9.70" fill="#c3a74c"/>
<rect x="97.18" y="115.70" width="3.35" height="9.70" fill="#c3a74c"/>
<rect x="102.22" y="115.70" width="3.35" height="9.70" fill="#c3a74c"/>
<rect x="107.25" y="115.70" width="3.35" height="9.70" fill="#c3a74c"/>
<rect x="112.28" y="115.70" width="3.35" height="9.70" fill="#c3a74c"/>
<rect x="117.32" y="115.70" width="3.35" height="9.70" fill="#c3a74c"/>
<rect x="122.35" y="115.70" width="3.35" height="9.70" fill="#c3a74c"/>
<rect x="127.39" y="115.70" width="3.35" height="9.70" fill="#f2e25a"/>
<rect x="132.43" y="115.70" width="3.35" height="9.70" fill="#f2e25a"/>
<rect x="137.46" y="115.70" width="3.35" height="9.70" fill="#c3a74c"/>
<rect x="142.50" y="115.70" width="3.35" height="9.70" fill="#f2e25a"/>
<rect x="147.53" y="115.70" width="3.35" height="9.70" fill="#c3a74c"/>
<rect x="152.56" y="115.70" width="3.35" height="9.70" fill="#c3a74c"/>
<rect x="157.60" y="115.70" width="3.35" height="9.70" fill="#c3a74c"/>
<rect x="162.63" y="115.70" width="3.35" height="9.70" fill="#c3a74c"/>
<rect x="167.67" y="115.70" width="3.35" height="9.70" fill="#f2e25a"/>
<rect x="172.71" y="115.70" width="3.35" height="9.70" fill="#c3a74c"/>
<rect x="177.74" y="115.70" width="3.35" height="9.70" fill="#f2e25a"/>
<rect x="182.78" y="115.70" width="3.35" height="9.70" fill="#c3a74c"/>
<rect x="187.81" y="115.70" width="3.35" height="9.70" fill="#c3a74c"/>
<rect x="192.84" y="115.70" width="3.35" height="9.70" fill="#c3a74c"/>
<rect x="197.88" y="115.70" width="3.35" height="9.70" fill="#c3a74c"/>
<rect x="202.92" y="115.70" width="3.35" height="9.70" fill="#c3a74c"/>
<rect x="207.95" y="115.70" width="3.35" height="9.70" fill="#c3a74c"/>
<rect x="212.99" y="115.70" width="3.35" height="9.70" fill="#f2e25a"/>
<rect x="218.02" y="115.70" width="3.35" height="9.70" fill="#c3a74c"/>
<rect x="223.06" y="115.70" width="3.35" height="9.70" fill="#c3a74c"/>
<rect x="228.09" y="115.70" width="3.35" height="9.70" fill="#c3a74c"/>
<rect x="233.12" y="115.70" width="3.35" height="9.70" fill="#c3a74c"/>
<rect x="238.16" y="115.70" width="3.35" height="9.70" fill="#f2e25a"/>
<rect x="243.20" y="115.70" width="3.35" height="9.70" fill="#c3a74c"/>
<rect x="248.23" y="115.70" width="3.35" height="9.70" fill="#c3a74c"/>
<rect x="253.27" y="115.70" width="3.35" height="9.70" fill="#1a1a1a"/>
<rect x="258.30" y="115.70" width="3.35" height="9.70" fill="#c3a74c"/>
<rect x="263.33" y="115.70" width="3.35" height="9.70" fill="#1a1a1a"/>
<rect x="268.37" y="115.70" width="3.35" height="9.70" fill="#c3a74c"/>
<rect x="273.40" y="115.70" width="3.35" height="9.70" fill="#f2e25a"/>
<rect x="278.44" y="115.70" width="3.35" height="9.70" fill="#f2e25a"/>
<rect x="283.48" y="115.70" width="3.35" height="9.70" fill="#f2e25a"/>
<rect x="288.51" y="115.70" width="3.35" height="9.70" fill="#c3a74c"/>
<rect x="293.55" y="115.70" width="3.35" height="9.70" fill="#c3a74c"/>
<rect x="298.58" y="115.70" width="3.35" height="9.70" fill="#c3a74c"/>
<rect x="303.62" y="115.70" width="3.35" height="9.70" fill="#c3a74c"/>
<rect x="308.65" y="115.70" width="3.35" height="9.70" fill="#c3a74c"/>
<rect x="313.69" y="115.70" width="3.35" height="9.70" fill="#c3a74c"/>
<rect x="318.72" y="115.70" width="3.35" height="9.70" fill="#f2e25a"/>
<rect x="323.75" y="115.70" width="3.35" height="9.70" fill="#c3a74c"/>
<rect x="328.79" y="115.70" width="3.35" height="9.70" fill="#f2e25a"/>
<rect x="333.82" y="115.70" width="3.35" height="9.70" fill="#c3a74c"/>
<rect x="338.86" y="115.70" width="3.35" height="9.70" fill="#1a1a1a"/>
<rect x="343.89" y="115.70" width="3.35" height="9.70" fill="#f2e25a"/>
<rect x="348.93" y="115.70" width="3.35" height="9.70" fill="#f2e25a"/>
<rect x="353.96" y="115.70" width="3.35" height="9.70" fill="#f2e25a"/>
<rect x="359.00" y="115.70" width="3.35" height="9.70" fill="#f2e25a"/>
<rect x="364.03" y="115.70" width="3.35" height="9.70" fill="#f2e25a"/>
<rect x="369.07" y="115.70" width="3.35" height="9.70" fill="#f2e25a"/>
<rect x="56.90" y="127.80" width="3.35" height="9.70" fill="#47905d"/>
<rect x="61.94" y="127.80" width="3.35" height="9.70" fill="#47905d"/>
<rect x="66.97" y="127.80" width="3.35" height="9.70" fill="#a7d0a8"/>
<rect x="72.00" y="127.80" width="3.35" height="9.70" fill="#47905d"/>
<rect x="77.04" y="127.80" width="3.35" height="9.70" fill="#47905d"/>
<rect x="82.08" y="127.80" width="3.35" height="9.70" fill="#47905d"/>
<rect x="87.11" y="127.80" width="3.35" height="9.70" fill="#47905d"/>
<rect x="92.15" y="127.80" width="3.35" height="9.70" fill="#47905d"/>
<rect x="97.18" y="127.80" width="3.35" height="9.70" fill="#47905d"/>
<rect x="102.22" y="127.80" width="3.35" height="9.70" fill="#47905d"/>
<rect x="107.25" y="127.80" width="3.35" height="9.70" fill="#1a1a1a"/>
<rect x="112.28" y="127.80" width="3.35" height="9.70" fill="#47905d"/>
<rect x="117.32" y="127.80" width="3.35" height="9.70" fill="#47905d"/>
<rect x="122.35" y="127.80" width="3.35" height="9.70" fill="#47905d"/>
<rect x="127.39" y="127.80" width="3.35" height="9.70" fill="#a7d0a8"/>
<rect x="132.43" y="127.80" width="3.35" height="9.70" fill="#a7d0a8"/>
<rect x="137.46" y="127.80" width="3.35" height="9.70" fill="#1a1a1a"/>
<rect x="142.50" y="127.80" width="3.35" height="9.70" fill="#47905d"/>
<rect x="147.53" y="127.80" width="3.35" height="9.70" fill="#47905d"/>
<rect x="152.56" y="127.80" width="3.35" height="9.70" fill="#47905d"/>
<rect x="157.60" y="127.80" width="3.35" height="9.70" fill="#47905d"/>
<rect x="162.63" y="127.80" width="3.35" height="9.70" fill="#47905d"/>
<rect x="167.67" y="127.80" width="3.35" height="9.70" fill="#47905d"/>
<rect x="172.71" y="127.80" width="3.35" height="9.70" fill="#47905d"/>
<rect x="177.74" y="127.80" width="3.35" height="9.70" fill="#47905d"/>
<rect x="182.78" y="127.80" width="3.35" height="9.70" fill="#47905d"/>
<rect x="187.81" y="127.80" width="3.35" height="9.70" fill="#47905d"/>
<rect x="192.84" y="127.80" width="3.35" height="9.70" fill="#47905d"/>
<rect x="197.88" y="127.80" width="3.35" height="9.70" fill="#a7d0a8"/>
<rect x="202.92" y="127.80" width="3.35" height="9.70" fill="#47905d"/>
<rect x="207.95" y="127.80" width="3.35" height="9.70" fill="#47905d"/>
<rect x="212.99" y="127.80" width="3.35" height="9.70" fill="#47905d"/>
<rect x="218.02" y="127.80" width="3.35" height="9.70" fill="#a7d0a8"/>
<rect x="223.06" y="127.80" width="3.35" height="9.70" fill="#a7d0a8"/>
<rect x="228.09" y="127.80" width="3.35" height="9.70" fill="#a7d0a8"/>
<rect x="233.12" y="127.80" width="3.35" height="9.70" fill="#47905d"/>
<rect x="238.16" y="127.80" width="3.35" height="9.70" fill="#a7d0a8"/>
<rect x="243.20" y="127.80" width="3.35" height="9.70" fill="#47905d"/>
<rect x="248.23" y="127.80" width="3.35" height="9.70" fill="#47905d"/>
<rect x="253.27" y="127.80" width="3.35" height="9.70" fill="#47905d"/>
<rect x="258.30" y="127.80" width="3.35" height="9.70" fill="#a7d0a8"/>
<rect x="263.33" y="127.80" width="3.35" height="9.70" fill="#1a1a1a"/>
<rect x="268.37" y="127.80" width="3.35" height="9.70" fill="#47905d"/>
<rect x="273.40" y="127.80" width="3.35" height="9.70" fill="#a7d0a8"/>
<rect x="278.44" y="127.80" width="3.35" height="9.70" fill="#a7d0a8"/>
<rect x="283.48" y="127.80" width="3.35" height="9.70" fill="#47905d"/>
<rect x="288.51" y="127.80" width="3.35" height="9.70" fill="#47905d"/>
<rect x="293.55" y="127.80" width="3.35" height="9.70" fill="#47905d"/>
<rect x="298.58" y="127.80" width="3.35" height="9.70" fill="#47905d"/>
<rect x="303.62" y="127.80" width="3.35" height="9.70" fill="#47905d"/>
<rect x="308.65" y="127.80" width="3.35" height="9.70" fill="#47905d"/>
<rect x="313.69" y="127.80" width="3.35" height="9.70" fill="#47905d"/>
<rect x="318.72" y="127.80" width="3.35" height="9.70" fill="#47905d"/>
<rect x="323.75" y="127.80" width="3.35" height="9.70" fill="#47905d"/>
<rect x="328.79" y="127.80" width="3.35" height="9.70" fill="#a7d0a8"/>
<rect x="333.82" y="127.80" width="3.35" height="9.70" fill="#a7d0a8"/>
<rect x="338.86" y="127.80" width="3.35" height="9.70" fill="#a7d0a8"/>
<rect x="343.89" y="127.80" width="3.35" height="9.70" fill="#47905d"/>
<rect x="348.93" y="127.80" width="3.35" height="9.70" fill="#a7d0a8"/>
<rect x="353.96" y="127.80" width="3.35" height="9.70" fill="#a7d0a8"/>
<rect x="359.00" y="127.80" width="3.35" height="9.70" fill="#a7d0a8"/>
<rect x="364.03" y="127.80" width="3.35" height="9.70" fill="#a7d0a8"/>
<rect x="369.07" y="127.80" width="3.35" height="9.70" fill="#a7d0a8"/>
<text x="53.00" y="33.90" font-size="9.9" text-anchor="end" textLength="18.60" lengthAdjust="spacingAndGlyphs">PI3K</text>
<text x="53.00" y="45.90" font-size="9.9" text-anchor="end" textLength="15.50" lengthAdjust="spacingAndGlyphs">p53</text>
<text x="53.00" y="57.80" font-size="9.9" text-anchor="end" textLength="41.40" lengthAdjust="spacingAndGlyphs">Cell Cycle</text>
<text x="53.00" y="70.00" font-size="9.9" text-anchor="end" textLength="16.00" lengthAdjust="spacingAndGlyphs">RTK</text>
<text x="53.00" y="82.00" font-size="9.9" text-anchor="end" textLength="15.00" lengthAdjust="spacingAndGlyphs">Ras</text>
<text x="53.00" y="94.00" font-size="9.9" text-anchor="end" textLength="25.70" lengthAdjust="spacingAndGlyphs">Notch</text>
<text x="53.00" y="111.50" font-size="9.9" text-anchor="end" textLength="40.70" lengthAdjust="spacingAndGlyphs">AR status</text>
<text x="53.00" y="123.60" font-size="9.9" text-anchor="end" textLength="20.30" lengthAdjust="spacingAndGlyphs">LNM</text>
<text x="53.00" y="135.70" font-size="9.9" text-anchor="end" textLength="12.30" lengthAdjust="spacingAndGlyphs">LVI</text>
<path d="M57.20 19.4 V13.4 H80.09 V19.4" fill="none" stroke="#6d6d6d" stroke-width="1"/>
<text x="69.50" y="10.60" font-size="9.0" text-anchor="middle">6</text>
<path d="M82.38 19.4 V13.4 H125.40 V19.4" fill="none" stroke="#6d6d6d" stroke-width="1"/>
<text x="103.40" y="10.60" font-size="9.0" text-anchor="middle">5</text>
<path d="M127.69 19.4 V13.4 H185.82 V19.4" fill="none" stroke="#6d6d6d" stroke-width="1"/>
<text x="158.30" y="10.60" font-size="9.0" text-anchor="middle">4</text>
<path d="M188.11 19.4 V13.4 H246.25 V19.4" fill="none" stroke="#6d6d6d" stroke-width="1"/>
<text x="218.50" y="10.60" font-size="9.0" text-anchor="middle">3</text>
<path d="M248.53 19.4 V13.4 H316.74 V19.4" fill="none" stroke="#6d6d6d" stroke-width="1"/>
<text x="283.20" y="10.60" font-size="9.0" text-anchor="middle">2</text>
<path d="M319.02 19.4 V13.4 H341.91 V19.4" fill="none" stroke="#6d6d6d" stroke-width="1"/>
<text x="330.20" y="10.60" font-size="9.0" text-anchor="middle">1</text>
<path d="M344.19 19.4 V13.4 H372.12 V19.4" fill="none" stroke="#6d6d6d" stroke-width="1"/>
<text x="358.20" y="10.60" font-size="9.0" text-anchor="middle">0</text>
<text x="1.00" y="14.60" font-size="17.5" font-weight="bold" fill="#111">A</text>
<rect x="10.9" y="146.6" width="362.1" height="31.3" fill="none" stroke="#bdbdbd" stroke-width="1"/>
<rect x="17.00" y="151.10" width="9.80" height="9.70" fill="#00608f"/>
<text x="28.70" y="159.00" font-size="8.9" textLength="66.30" lengthAdjust="spacingAndGlyphs">Pathway affected</text>
<rect x="17.00" y="163.00" width="9.80" height="9.70" fill="#d9d9d9"/>
<text x="28.70" y="170.90" font-size="8.9" textLength="81.30" lengthAdjust="spacingAndGlyphs">Pathway not affected</text>
<rect x="119.10" y="151.10" width="9.80" height="9.70" fill="#d6534e"/>
<text x="130.80" y="159.00" font-size="8.9" textLength="42.70" lengthAdjust="spacingAndGlyphs">AR positive</text>
<rect x="119.10" y="163.00" width="9.80" height="9.70" fill="#d9d9d9"/>
<text x="130.80" y="170.90" font-size="8.9" textLength="45.50" lengthAdjust="spacingAndGlyphs">AR negative</text>
<rect x="186.20" y="151.10" width="9.80" height="9.70" fill="#c3a74c"/>
<text x="197.90" y="159.00" font-size="8.9" textLength="50.00" lengthAdjust="spacingAndGlyphs">LNM present</text>
<rect x="186.20" y="163.00" width="9.80" height="9.70" fill="#f2e25a"/>
<text x="197.90" y="170.90" font-size="8.9" textLength="31.70" lengthAdjust="spacingAndGlyphs">No LNM</text>
<rect x="256.20" y="151.10" width="9.80" height="9.70" fill="#47905d"/>
<text x="267.90" y="159.00" font-size="8.9" textLength="42.30" lengthAdjust="spacingAndGlyphs">LVI present</text>
<rect x="256.20" y="163.00" width="9.80" height="9.70" fill="#a7d0a8"/>
<text x="267.90" y="170.90" font-size="8.9" textLength="24.00" lengthAdjust="spacingAndGlyphs">No LVI</text>
<rect x="321.00" y="151.10" width="9.80" height="9.70" fill="#1a1a1a"/>
<text x="332.70" y="159.00" font-size="8.9" textLength="35.90" lengthAdjust="spacingAndGlyphs">unknown</text>
<text x="399.60" y="14.90" font-size="16" font-weight="bold" fill="#111">B</text>
<text x="424.20" y="17.50" font-size="9.8" font-weight="bold" fill="#141414" textLength="37.90" lengthAdjust="spacingAndGlyphs">Pathway</text>
<text x="470.20" y="17.50" font-size="9.8" font-weight="bold" fill="#141414" textLength="5.10" lengthAdjust="spacingAndGlyphs">n</text>
<text x="485.50" y="17.50" font-size="9.8" textLength="15.80" lengthAdjust="spacingAndGlyphs">RTK</text>
<text x="513.60" y="17.50" font-size="9.8" textLength="14.60" lengthAdjust="spacingAndGlyphs">Ras</text>
<text x="538.90" y="17.50" font-size="9.8" textLength="25.70" lengthAdjust="spacingAndGlyphs">Notch</text>
<text x="571.10" y="17.50" font-size="9.8" textLength="19.10" lengthAdjust="spacingAndGlyphs">PI3K</text>
<text x="600.70" y="17.50" font-size="9.8" textLength="16.00" lengthAdjust="spacingAndGlyphs">p53</text>
<text x="663.10" y="17.50" font-size="9.8" textLength="11.60" lengthAdjust="spacingAndGlyphs">AR</text>
<text x="629.60" y="12.70" font-size="9.8" textLength="16.00" lengthAdjust="spacingAndGlyphs">Cell</text>
<text x="629.60" y="20.80" font-size="9.8" textLength="20.80" lengthAdjust="spacingAndGlyphs">cycle</text>
<rect x="480.60" y="25.00" width="28.95" height="13.50" fill="#9fa4a9"/>
<rect x="508.95" y="25.00" width="29.65" height="13.50" fill="#f1e5e9"/>
<rect x="538.00" y="25.00" width="29.65" height="13.50" fill="#f8f3f5"/>
<rect x="567.05" y="25.00" width="29.65" height="13.50" fill="#8dbd87"/>
<rect x="596.10" y="25.00" width="29.65" height="13.50" fill="#8dbd87"/>
<rect x="625.15" y="25.00" width="29.65" height="13.50" fill="#c6dcc1"/>
<rect x="654.20" y="25.00" width="29.00" height="13.50" fill="#7aae70"/>
<rect x="480.60" y="41.72" width="28.95" height="13.50" fill="#dce6d8"/>
<rect x="508.95" y="41.72" width="29.65" height="13.50" fill="#9fa4a9"/>
<rect x="538.00" y="41.72" width="29.65" height="13.50" fill="#ffffff"/>
<rect x="567.05" y="41.72" width="29.65" height="13.50" fill="#68a75e"/>
<rect x="596.10" y="41.72" width="29.65" height="13.50" fill="#eef2ec"/>
<rect x="625.15" y="41.72" width="29.65" height="13.50" fill="#c2d8bd"/>
<rect x="654.20" y="41.72" width="29.00" height="13.50" fill="#7aae70"/>
<rect x="480.60" y="58.44" width="28.95" height="13.50" fill="#d0e0cb"/>
<rect x="508.95" y="58.44" width="29.65" height="13.50" fill="#ffffff"/>
<rect x="538.00" y="58.44" width="29.65" height="13.50" fill="#9fa4a9"/>
<rect x="567.05" y="58.44" width="29.65" height="13.50" fill="#a3c89d"/>
<rect x="596.10" y="58.44" width="29.65" height="13.50" fill="#bfd7ba"/>
<rect x="625.15" y="58.44" width="29.65" height="13.50" fill="#d1dfcd"/>
<rect x="654.20" y="58.44" width="29.00" height="13.50" fill="#85b57c"/>
<rect x="480.60" y="75.16" width="28.95" height="13.50" fill="#e5ede2"/>
<rect x="508.95" y="75.16" width="29.65" height="13.50" fill="#fbf8f7"/>
<rect x="538.00" y="75.16" width="29.65" height="13.50" fill="#ecccd6"/>
<rect x="567.05" y="75.16" width="29.65" height="13.50" fill="#9fa4a9"/>
<rect x="596.10" y="75.16" width="29.65" height="13.50" fill="#d8e4d3"/>
<rect x="625.15" y="75.16" width="29.65" height="13.50" fill="#e8eee5"/>
<rect x="654.20" y="75.16" width="29.00" height="13.50" fill="#7cb072"/>
<rect x="480.60" y="91.88" width="28.95" height="13.50" fill="#b5d3ae"/>
<rect x="508.95" y="91.88" width="29.65" height="13.50" fill="#e3c0cd"/>
<rect x="538.00" y="91.88" width="29.65" height="13.50" fill="#f1e3e8"/>
<rect x="567.05" y="91.88" width="29.65" height="13.50" fill="#a3c99c"/>
<rect x="596.10" y="91.88" width="29.65" height="13.50" fill="#9fa4a9"/>
<rect x="625.15" y="91.88" width="29.65" height="13.50" fill="#bcd7b6"/>
<rect x="654.20" y="91.88" width="29.00" height="13.50" fill="#88b980"/>
<rect x="480.60" y="108.60" width="28.95" height="13.50" fill="#c9dcc4"/>
<rect x="508.95" y="108.60" width="29.65" height="13.50" fill="#ffffff"/>
<rect x="538.00" y="108.60" width="29.65" height="13.50" fill="#f2f1f1"/>
<rect x="567.05" y="108.60" width="29.65" height="13.50" fill="#93c08c"/>
<rect x="596.10" y="108.60" width="29.65" height="13.50" fill="#9ec69a"/>
<rect x="625.15" y="108.60" width="29.65" height="13.50" fill="#9fa4a9"/>
<rect x="654.20" y="108.60" width="29.00" height="13.50" fill="#b6d2b0"/>
<rect x="480.60" y="125.32" width="28.95" height="13.50" fill="#e6ede3"/>
<rect x="508.95" y="125.32" width="29.65" height="13.50" fill="#f2e5ea"/>
<rect x="538.00" y="125.32" width="29.65" height="13.50" fill="#ecd3d8"/>
<rect x="567.05" y="125.32" width="29.65" height="13.50" fill="#92c08b"/>
<rect x="596.10" y="125.32" width="29.65" height="13.50" fill="#dfe8db"/>
<rect x="625.15" y="125.32" width="29.65" height="13.50" fill="#f3e6ec"/>
<rect x="654.20" y="125.32" width="29.00" height="13.50" fill="#9fa4a9"/>
<rect x="480.5" y="24.7" width="202.6" height="114.0" fill="none" stroke="#9fa4a9" stroke-width="1.2"/>
<path d="M608.77 31.65L612.48 31.65M609.70 30.05L611.55 33.25M611.55 30.05L609.70 33.25" stroke="#333" stroke-width="0.85" stroke-linecap="round" fill="none"/>
<path d="M637.82 31.65L641.52 31.65M638.75 30.05L640.60 33.25M640.60 30.05L638.75 33.25" stroke="#333" stroke-width="0.85" stroke-linecap="round" fill="none"/>
<path d="M579.72 48.37L583.42 48.37M580.65 46.77L582.50 49.97M582.50 46.77L580.65 49.97" stroke="#333" stroke-width="0.85" stroke-linecap="round" fill="none"/>
<circle cx="639.67" cy="49.57" r="1.0" fill="#222"/>
<path d="M521.62 81.81L525.33 81.81M522.55 80.21L524.40 83.41M524.40 80.21L522.55 83.41" stroke="#333" stroke-width="0.85" stroke-linecap="round" fill="none"/>
<path d="M492.57 98.53L496.27 98.53M493.50 96.93L495.35 100.13M495.35 96.93L493.50 100.13" stroke="#333" stroke-width="0.85" stroke-linecap="round" fill="none"/>
<path d="M637.82 98.53L641.52 98.53M638.75 96.93L640.60 100.13M640.60 96.93L638.75 100.13" stroke="#333" stroke-width="0.85" stroke-linecap="round" fill="none"/>
<path d="M492.57 115.25L496.27 115.25M493.50 113.65L495.35 116.85M495.35 113.65L493.50 116.85" stroke="#333" stroke-width="0.85" stroke-linecap="round" fill="none"/>
<circle cx="523.48" cy="116.45" r="1.0" fill="#222"/>
<path d="M608.77 115.25L612.48 115.25M609.70 113.65L611.55 116.85M611.55 113.65L609.70 116.85" stroke="#333" stroke-width="0.85" stroke-linecap="round" fill="none"/>
<text x="424.00" y="35.00" font-size="9.8" textLength="15.90" lengthAdjust="spacingAndGlyphs">RTK</text>
<text x="477.60" y="35.00" font-size="9.8" text-anchor="end" textLength="10.00" lengthAdjust="spacingAndGlyphs">31</text>
<text x="424.00" y="51.72" font-size="9.8" textLength="14.50" lengthAdjust="spacingAndGlyphs">Ras</text>
<text x="477.60" y="51.72" font-size="9.8" text-anchor="end" textLength="10.00" lengthAdjust="spacingAndGlyphs">24</text>
<text x="424.00" y="68.44" font-size="9.8" textLength="25.50" lengthAdjust="spacingAndGlyphs">Notch</text>
<text x="477.60" y="68.44" font-size="9.8" text-anchor="end" textLength="10.00" lengthAdjust="spacingAndGlyphs">24</text>
<text x="424.00" y="85.16" font-size="9.8" textLength="19.00" lengthAdjust="spacingAndGlyphs">PI3K</text>
<text x="477.60" y="85.16" font-size="9.8" text-anchor="end" textLength="10.00" lengthAdjust="spacingAndGlyphs">45</text>
<text x="424.00" y="101.88" font-size="9.8" textLength="15.70" lengthAdjust="spacingAndGlyphs">p53</text>
<text x="477.60" y="101.88" font-size="9.8" text-anchor="end" textLength="10.00" lengthAdjust="spacingAndGlyphs">36</text>
<text x="424.00" y="118.60" font-size="9.8" textLength="40.50" lengthAdjust="spacingAndGlyphs">Cell cycle</text>
<text x="477.60" y="118.60" font-size="9.8" text-anchor="end" textLength="10.00" lengthAdjust="spacingAndGlyphs">32</text>
<text x="424.00" y="135.32" font-size="9.8" textLength="11.30" lengthAdjust="spacingAndGlyphs">AR</text>
<text x="477.60" y="135.32" font-size="9.8" text-anchor="end" textLength="10.00" lengthAdjust="spacingAndGlyphs">47</text>
<rect x="480.9" y="147.3" width="202.6" height="31.9" fill="none" stroke="#c4c4c4" stroke-width="1"/>
<rect x="497.60" y="150.60" width="4.06" height="13.60" fill="#bc3a7e"/>
<rect x="501.36" y="150.60" width="4.06" height="13.60" fill="#c24c86"/>
<rect x="505.12" y="150.60" width="4.06" height="13.60" fill="#c85f90"/>
<rect x="508.89" y="150.60" width="4.06" height="13.60" fill="#cd719b"/>
<rect x="512.65" y="150.60" width="4.06" height="13.60" fill="#d183a6"/>
<rect x="516.41" y="150.60" width="4.06" height="13.60" fill="#d595b1"/>
<rect x="520.17" y="150.60" width="4.06" height="13.60" fill="#d9a6bc"/>
<rect x="523.93" y="150.60" width="4.06" height="13.60" fill="#ddb7c6"/>
<rect x="527.70" y="150.60" width="4.06" height="13.60" fill="#e2c8d1"/>
<rect x="531.46" y="150.60" width="4.06" height="13.60" fill="#e8dce1"/>
<rect x="535.22" y="150.60" width="4.06" height="13.60" fill="#ffffff"/>
<rect x="538.98" y="150.60" width="4.06" height="13.60" fill="#e6ece4"/>
<rect x="542.74" y="150.60" width="4.06" height="13.60" fill="#d6e3d2"/>
<rect x="546.50" y="150.60" width="4.06" height="13.60" fill="#c6d9c0"/>
<rect x="550.27" y="150.60" width="4.06" height="13.60" fill="#b6cfae"/>
<rect x="554.03" y="150.60" width="4.06" height="13.60" fill="#a6c59d"/>
<rect x="557.79" y="150.60" width="4.06" height="13.60" fill="#95bb8b"/>
<rect x="561.55" y="150.60" width="4.06" height="13.60" fill="#84b17a"/>
<rect x="565.31" y="150.60" width="4.06" height="13.60" fill="#73a768"/>
<rect x="569.08" y="150.60" width="4.06" height="13.60" fill="#629d57"/>
<rect x="572.84" y="150.60" width="4.06" height="13.60" fill="#549548"/>
<rect x="497.60" y="150.6" width="79.00" height="13.6" fill="none" stroke="#9ba1a7" stroke-width="1.3"/>
<text x="492.80" y="177.40" font-size="8.9" textLength="11.40" lengthAdjust="spacingAndGlyphs">0%</text>
<text x="531.20" y="177.40" font-size="8.9" textLength="16.60" lengthAdjust="spacingAndGlyphs">50%</text>
<text x="566.70" y="177.40" font-size="8.9" textLength="20.30" lengthAdjust="spacingAndGlyphs">100%</text>
<path d="M607.70 158.10L611.90 158.10M608.75 156.28L610.85 159.92M610.85 156.28L608.75 159.92" stroke="#2a2a2a" stroke-width="0.9" stroke-linecap="round" fill="none"/>
<circle cx="609.3" cy="170.3" r="0.9" fill="#222"/>
<text x="620.60" y="160.30" font-size="8.9" textLength="30.60" lengthAdjust="spacingAndGlyphs">p &lt; 0.05</text>
<text x="620.20" y="172.40" font-size="8.9" textLength="25.40" lengthAdjust="spacingAndGlyphs">p &lt; 0.1</text>
<text x="1.50" y="223.50" font-size="17.5" font-weight="bold" fill="#111">C</text>
<line x1="47.70" y1="222.05" x2="288.00" y2="222.05" stroke="#dcdcdc" stroke-width="1.5"/>
<line x1="47.70" y1="241.47" x2="288.00" y2="241.47" stroke="#dcdcdc" stroke-width="1.5"/>
<line x1="47.70" y1="260.89" x2="288.00" y2="260.89" stroke="#dcdcdc" stroke-width="1.5"/>
<line x1="47.70" y1="280.31" x2="288.00" y2="280.31" stroke="#dcdcdc" stroke-width="1.5"/>
<line x1="47.70" y1="299.73" x2="288.00" y2="299.73" stroke="#dcdcdc" stroke-width="1.5"/>
<line x1="47.70" y1="319.15" x2="288.00" y2="319.15" stroke="#dcdcdc" stroke-width="1.5"/>
<line x1="49.70" y1="221.90" x2="49.70" y2="319.80" stroke="#cccccc" stroke-width="1.0"/>
<text x="43.20" y="226.50" font-size="9.7" text-anchor="end" textLength="23.90" lengthAdjust="spacingAndGlyphs">100%</text>
<text x="43.20" y="245.92" font-size="9.7" text-anchor="end" textLength="18.00" lengthAdjust="spacingAndGlyphs">80%</text>
<text x="43.20" y="265.34" font-size="9.7" text-anchor="end" textLength="18.00" lengthAdjust="spacingAndGlyphs">60%</text>
<text x="43.20" y="284.76" font-size="9.7" text-anchor="end" textLength="18.00" lengthAdjust="spacingAndGlyphs">40%</text>
<text x="43.20" y="304.18" font-size="9.7" text-anchor="end" textLength="18.30" lengthAdjust="spacingAndGlyphs">20%</text>
<text x="43.20" y="323.60" font-size="9.7" text-anchor="end" textLength="12.60" lengthAdjust="spacingAndGlyphs">0%</text>
<rect x="52.85" y="221.90" width="8.60" height="97.10" fill="#00608f"/>
<rect x="62.45" y="281.91" width="8.60" height="37.09" fill="#d6584d"/>
<rect x="72.05" y="286.67" width="8.60" height="32.33" fill="#a2a6aa"/>
<rect x="93.52" y="221.90" width="8.60" height="97.10" fill="#00608f"/>
<rect x="103.12" y="278.99" width="8.60" height="40.01" fill="#d6584d"/>
<rect x="112.72" y="262.39" width="8.60" height="56.61" fill="#a2a6aa"/>
<rect x="134.19" y="244.33" width="8.60" height="74.67" fill="#00608f"/>
<rect x="143.79" y="241.90" width="8.60" height="77.10" fill="#d6584d"/>
<rect x="153.39" y="262.39" width="8.60" height="56.61" fill="#a2a6aa"/>
<rect x="174.86" y="289.09" width="8.60" height="29.91" fill="#00608f"/>
<rect x="184.46" y="273.27" width="8.60" height="45.73" fill="#d6584d"/>
<rect x="194.06" y="294.73" width="8.60" height="24.27" fill="#a2a6aa"/>
<rect x="215.53" y="251.81" width="8.60" height="67.19" fill="#00608f"/>
<rect x="225.13" y="284.72" width="8.60" height="34.28" fill="#d6584d"/>
<rect x="234.73" y="246.18" width="8.60" height="72.83" fill="#a2a6aa"/>
<rect x="256.20" y="259.28" width="8.60" height="59.72" fill="#00608f"/>
<rect x="265.80" y="287.54" width="8.60" height="31.46" fill="#d6584d"/>
<rect x="275.40" y="286.67" width="8.60" height="32.33" fill="#a2a6aa"/>
<text x="56.10" y="333.00" font-size="9.6" textLength="17.20" lengthAdjust="spacingAndGlyphs">RTK</text>
<text x="96.60" y="333.00" font-size="9.6" textLength="16.00" lengthAdjust="spacingAndGlyphs">p53</text>
<text x="135.60" y="333.00" font-size="9.6" textLength="19.30" lengthAdjust="spacingAndGlyphs">PI3K</text>
<text x="179.40" y="333.00" font-size="9.6" textLength="15.50" lengthAdjust="spacingAndGlyphs">Ras</text>
<text x="205.70" y="333.00" font-size="9.6" textLength="42.30" lengthAdjust="spacingAndGlyphs">Cell cycle</text>
<text x="256.80" y="333.00" font-size="9.6" textLength="26.60" lengthAdjust="spacingAndGlyphs">Notch</text>
<path d="M103.50 232.00L107.30 232.00M104.45 230.35L106.35 233.65M106.35 230.35L104.45 233.65" stroke="#2a2a2a" stroke-width="0.9" stroke-linecap="round" fill="none"/>
<path d="M108.80 232.00L112.60 232.00M109.75 230.35L111.65 233.65M111.65 230.35L109.75 233.65" stroke="#2a2a2a" stroke-width="0.9" stroke-linecap="round" fill="none"/>
<path d="M227.30 232.10L231.10 232.10M228.25 230.45L230.15 233.75M230.15 230.45L228.25 233.75" stroke="#2a2a2a" stroke-width="0.9" stroke-linecap="round" fill="none"/>
<text x="311.20" y="222.80" font-size="18" font-weight="bold" fill="#111">D</text>
<line x1="354.60" y1="220.95" x2="683.20" y2="220.95" stroke="#dcdcdc" stroke-width="1.5"/>
<line x1="354.60" y1="240.57" x2="683.20" y2="240.57" stroke="#dcdcdc" stroke-width="1.5"/>
<line x1="354.60" y1="260.19" x2="683.20" y2="260.19" stroke="#dcdcdc" stroke-width="1.5"/>
<line x1="354.60" y1="279.81" x2="683.20" y2="279.81" stroke="#dcdcdc" stroke-width="1.5"/>
<line x1="354.60" y1="299.43" x2="683.20" y2="299.43" stroke="#dcdcdc" stroke-width="1.5"/>
<line x1="354.60" y1="319.05" x2="683.20" y2="319.05" stroke="#dcdcdc" stroke-width="1.5"/>
<line x1="356.60" y1="220.80" x2="356.60" y2="319.70" stroke="#cccccc" stroke-width="1.0"/>
<text x="351.00" y="226.10" font-size="9.7" text-anchor="end" textLength="23.90" lengthAdjust="spacingAndGlyphs">100%</text>
<text x="351.00" y="245.72" font-size="9.7" text-anchor="end" textLength="18.00" lengthAdjust="spacingAndGlyphs">80%</text>
<text x="351.00" y="265.34" font-size="9.7" text-anchor="end" textLength="18.00" lengthAdjust="spacingAndGlyphs">60%</text>
<text x="351.00" y="284.96" font-size="9.7" text-anchor="end" textLength="18.00" lengthAdjust="spacingAndGlyphs">40%</text>
<text x="351.00" y="304.58" font-size="9.7" text-anchor="end" textLength="18.30" lengthAdjust="spacingAndGlyphs">20%</text>
<text x="351.00" y="324.20" font-size="9.7" text-anchor="end" textLength="12.60" lengthAdjust="spacingAndGlyphs">0%</text>
<rect x="361.50" y="296.24" width="8.70" height="22.66" fill="#00608f"/>
<rect x="371.25" y="310.27" width="8.70" height="8.63" fill="#d6584d"/>
<rect x="381.00" y="310.76" width="8.70" height="8.14" fill="#a2a6aa"/>
<rect x="403.12" y="235.91" width="8.70" height="82.99" fill="#00608f"/>
<rect x="412.87" y="281.43" width="8.70" height="37.47" fill="#d6584d"/>
<rect x="422.62" y="269.85" width="8.70" height="49.05" fill="#a2a6aa"/>
<rect x="444.74" y="281.13" width="8.70" height="37.77" fill="#00608f"/>
<rect x="454.49" y="269.85" width="8.70" height="49.05" fill="#d6584d"/>
<rect x="486.36" y="311.35" width="8.70" height="7.55" fill="#00608f"/>
<rect x="496.11" y="278.48" width="8.70" height="40.42" fill="#d6584d"/>
<rect x="527.98" y="266.12" width="8.70" height="52.78" fill="#00608f"/>
<rect x="537.73" y="307.32" width="8.70" height="11.58" fill="#d6584d"/>
<rect x="547.48" y="294.38" width="8.70" height="24.53" fill="#a2a6aa"/>
<rect x="569.60" y="311.35" width="8.70" height="7.55" fill="#00608f"/>
<rect x="579.35" y="298.69" width="8.70" height="20.21" fill="#d6584d"/>
<rect x="589.10" y="302.52" width="8.70" height="16.38" fill="#a2a6aa"/>
<rect x="611.22" y="303.79" width="8.70" height="15.11" fill="#00608f"/>
<rect x="620.97" y="313.11" width="8.70" height="5.79" fill="#d6584d"/>
<rect x="630.72" y="310.76" width="8.70" height="8.14" fill="#a2a6aa"/>
<rect x="652.84" y="303.79" width="8.70" height="15.11" fill="#00608f"/>
<rect x="662.59" y="301.63" width="8.70" height="17.27" fill="#d6584d"/>
<rect x="672.34" y="302.52" width="8.70" height="16.38" fill="#a2a6aa"/>
<text x="375.70" y="334.40" font-size="9.4" text-anchor="middle" textLength="26.30" lengthAdjust="spacingAndGlyphs">ERBB2</text>
<text x="376.40" y="342.30" font-size="9.4" text-anchor="middle" textLength="16.30" lengthAdjust="spacingAndGlyphs">mut</text>
<text x="415.90" y="334.40" font-size="9.4" text-anchor="middle" textLength="20.70" lengthAdjust="spacingAndGlyphs">TP53</text>
<text x="417.30" y="342.30" font-size="9.4" text-anchor="middle" textLength="16.30" lengthAdjust="spacingAndGlyphs">mut</text>
<text x="458.50" y="334.40" font-size="9.4" text-anchor="middle" textLength="32.20" lengthAdjust="spacingAndGlyphs">PIK3CA</text>
<text x="458.20" y="342.30" font-size="9.4" text-anchor="middle" textLength="39.00" lengthAdjust="spacingAndGlyphs">mut/amp</text>
<text x="499.50" y="334.40" font-size="9.4" text-anchor="middle" textLength="24.10" lengthAdjust="spacingAndGlyphs">HRAS</text>
<text x="500.50" y="342.30" font-size="9.4" text-anchor="middle" textLength="39.00" lengthAdjust="spacingAndGlyphs">mut/amp</text>
<text x="541.30" y="334.40" font-size="9.4" text-anchor="middle" textLength="33.40" lengthAdjust="spacingAndGlyphs">CDK4/6</text>
<text x="541.00" y="342.30" font-size="9.4" text-anchor="middle" textLength="16.10" lengthAdjust="spacingAndGlyphs">amp</text>
<text x="584.20" y="334.40" font-size="9.4" text-anchor="middle" textLength="37.00" lengthAdjust="spacingAndGlyphs">CDKN2A</text>
<text x="584.10" y="342.30" font-size="9.4" text-anchor="middle" textLength="33.50" lengthAdjust="spacingAndGlyphs">mut/del</text>
<text x="625.90" y="334.40" font-size="9.4" text-anchor="middle" textLength="17.10" lengthAdjust="spacingAndGlyphs">RB1</text>
<text x="626.50" y="342.30" font-size="9.4" text-anchor="middle" textLength="33.50" lengthAdjust="spacingAndGlyphs">mut/del</text>
<text x="665.20" y="334.40" font-size="9.4" text-anchor="middle" textLength="19.20" lengthAdjust="spacingAndGlyphs">MYC</text>
<text x="666.50" y="342.30" font-size="9.4" text-anchor="middle" textLength="16.10" lengthAdjust="spacingAndGlyphs">amp</text>
<path d="M415.70 232.10L419.50 232.10M416.65 230.45L418.55 233.75M418.55 230.45L416.65 233.75" stroke="#2a2a2a" stroke-width="0.9" stroke-linecap="round" fill="none"/>
<path d="M454.00 232.10L457.80 232.10M454.95 230.45L456.85 233.75M456.85 230.45L454.95 233.75" stroke="#2a2a2a" stroke-width="0.9" stroke-linecap="round" fill="none"/>
<path d="M458.90 232.10L462.70 232.10M459.85 230.45L461.75 233.75M461.75 230.45L459.85 233.75" stroke="#2a2a2a" stroke-width="0.9" stroke-linecap="round" fill="none"/>
<path d="M493.90 232.10L497.70 232.10M494.85 230.45L496.75 233.75M496.75 230.45L494.85 233.75" stroke="#2a2a2a" stroke-width="0.9" stroke-linecap="round" fill="none"/>
<path d="M498.70 232.10L502.50 232.10M499.65 230.45L501.55 233.75M501.55 230.45L499.65 233.75" stroke="#2a2a2a" stroke-width="0.9" stroke-linecap="round" fill="none"/>
<path d="M540.30 232.10L544.10 232.10M541.25 230.45L543.15 233.75M543.15 230.45L541.25 233.75" stroke="#2a2a2a" stroke-width="0.9" stroke-linecap="round" fill="none"/>
<rect x="91.3" y="350.3" width="497.4" height="20.9" fill="none" stroke="#c4c4c4" stroke-width="1"/>
<rect x="95.50" y="355.20" width="12.30" height="11.80" fill="#00608f"/>
<text x="111.40" y="364.20" font-size="9.6" textLength="81.80" lengthAdjust="spacingAndGlyphs">AR+, ERBB2+ (n=13)</text>
<rect x="217.80" y="355.20" width="12.30" height="11.80" fill="#d6584d"/>
<text x="232.70" y="364.20" font-size="9.6" textLength="79.30" lengthAdjust="spacingAndGlyphs">AR+, ERBB2- (n=34)</text>
<rect x="341.20" y="355.20" width="12.30" height="11.80" fill="#a2a6aa"/>
<text x="357.00" y="364.20" font-size="9.6" textLength="77.50" lengthAdjust="spacingAndGlyphs">AR-, ERBB2- (n=12)</text>
<path d="M463.60 363.60L467.80 363.60M464.65 361.78L466.75 365.42M466.75 361.78L464.65 365.42" stroke="#2a2a2a" stroke-width="0.9" stroke-linecap="round" fill="none"/>
<text x="476.00" y="364.20" font-size="9.6" textLength="32.00" lengthAdjust="spacingAndGlyphs">p &lt; 0.05</text>
<path d="M530.70 363.60L534.90 363.60M531.75 361.78L533.85 365.42M533.85 361.78L531.75 365.42" stroke="#2a2a2a" stroke-width="0.9" stroke-linecap="round" fill="none"/>
<path d="M535.90 363.60L540.10 363.60M536.95 361.78L539.05 365.42M539.05 361.78L536.95 365.42" stroke="#2a2a2a" stroke-width="0.9" stroke-linecap="round" fill="none"/>
<text x="549.50" y="364.20" font-size="9.6" textLength="32.60" lengthAdjust="spacingAndGlyphs">p &lt; 0.01</text>
</svg>
</body></html>
